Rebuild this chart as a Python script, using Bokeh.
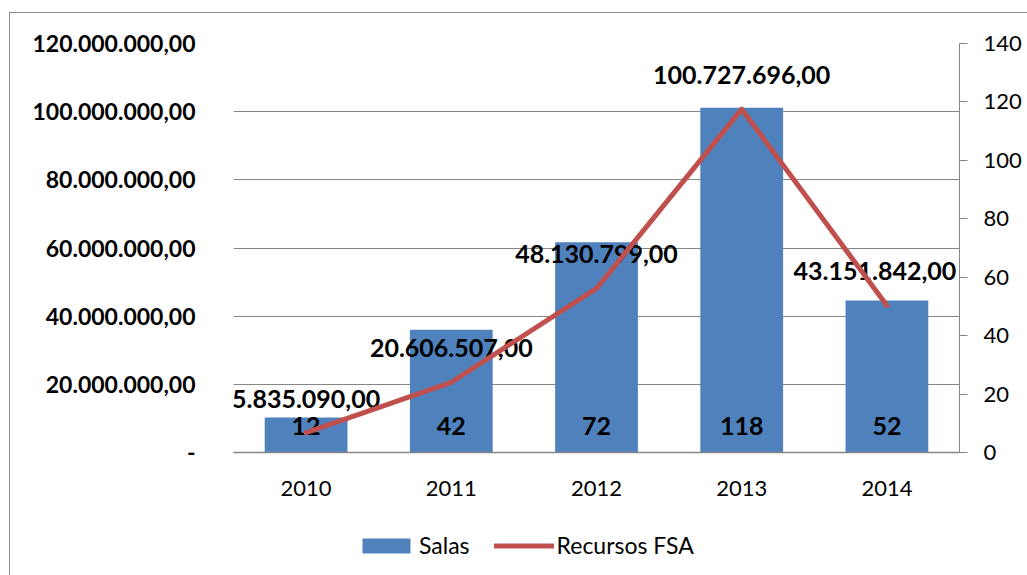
from bokeh.plotting import figure
from bokeh.layouts import column
from bokeh.models import Range1d, LinearAxis, FixedTicker, ColumnDataSource, Legend, LegendItem
from bokeh.core.properties import value
from bokeh.embed import file_html
from bokeh.resources import INLINE

# ---- data ----
anos = ["2010", "2011", "2012", "2013", "2014"]
salas = [12, 42, 72, 118, 52]
recursos_fsa = [5835090.00, 20606507.00, 48130799.00, 100727696.00, 43151842.00]

left_ticks = [0, 20000000, 40000000, 60000000, 80000000, 100000000, 120000000]
left_tick_labels = ["-", "20.000.000,00", "40.000.000,00", "60.000.000,00",
                    "80.000.000,00", "100.000.000,00", "120.000.000,00"]
right_ticks = [0, 20, 40, 60, 80, 100, 120, 140]
series_names = ["Salas", "Recursos FSA"]


def br(v):
    s = f"{v:,.2f}"
    return s.replace(",", "X").replace(".", ",").replace("X", ".")


FONT = "Lato"
GRAY = "#868686"
BLUE = "#4F81BD"
RED = "#C0504D"

src = ColumnDataSource(dict(
    ano=anos,
    salas=salas,
    salas_lbl=[str(s) for s in salas],
    zero=[0] * len(salas),
    fsa=recursos_fsa,
    fsa_lbl=[br(v) for v in recursos_fsa],
))
# keep the last value label inside the plot frame (text glyphs are clipped)
src.data["lbl_dx"] = [0, 0, 0, 0, -12]

p = figure(width=1017, height=507, x_range=anos, y_range=Range1d(0, 120000000),
           output_backend="svg", toolbar_location=None,
           min_border_left=223, min_border_right=68, min_border_top=30, min_border_bottom=68)
p.outline_line_color = None
p.background_fill_color = "white"
p.border_fill_color = "white"
p.extra_y_ranges = {"salas": Range1d(0, 140)}

# left axis
ya = p.yaxis[0]
ya.ticker = FixedTicker(ticks=left_ticks)
ya.major_label_overrides = dict(zip(left_ticks, left_tick_labels))
ya.axis_line_color = None
ya.major_tick_line_color = None
ya.minor_tick_line_color = None
ya.major_label_standoff = 32
ya.major_label_text_font = FONT
ya.major_label_text_font_style = "bold"
ya.major_label_text_font_size = "23px"
ya.major_label_text_color = "black"

# right axis
ra = LinearAxis(y_range_name="salas", ticker=FixedTicker(ticks=right_ticks))
ra.axis_line_color = GRAY
ra.major_tick_line_color = GRAY
ra.major_tick_out = 8
ra.major_tick_in = 0
ra.minor_tick_line_color = None
ra.major_label_standoff = 16
ra.major_label_text_font = FONT
ra.major_label_text_font_size = "22px"
ra.major_label_text_color = "black"
p.add_layout(ra, "right")

# x axis
xa = p.xaxis[0]
xa.axis_line_color = GRAY
xa.axis_line_width = 1.5
xa.major_tick_line_color = None
xa.minor_tick_line_color = None
xa.major_label_standoff = 22
xa.major_label_text_font = FONT
xa.major_label_text_font_size = "22px"
xa.major_label_text_color = "black"

p.xgrid.grid_line_color = None
p.ygrid.grid_line_color = GRAY
p.ygrid.grid_line_width = 1.2

bars = p.vbar(x="ano", top="salas", width=0.57, source=src, y_range_name="salas",
              fill_color=BLUE, line_color=None)

p.text(x="ano", y="zero", text="salas_lbl", source=src, y_range_name="salas",
       text_align="center", text_baseline="middle", y_offset=-27,
       text_font=value(FONT), text_font_style="bold", text_font_size="25px", text_color="black")

p.text(x="ano", y="fsa", text="fsa_lbl", source=src,
       text_align="center", text_baseline="middle", y_offset=-34, x_offset="lbl_dx",
       text_font=value(FONT), text_font_style="bold", text_font_size="25px", text_color="black")

line = p.line(x="ano", y="fsa", source=src, line_color=RED, line_width=5,
              line_cap="round", line_join="round")

# ---- legend strip below the chart ----
lf = figure(width=1017, height=55, output_backend="svg", toolbar_location=None,
            x_axis_location=None, y_axis_location=None, min_border=0,
            x_range=anos, y_range=Range1d(-2, -1))
lf.outline_line_color = None
lf.grid.grid_line_color = None
lf.background_fill_color = "white"
lf.border_fill_color = "white"
lbar = lf.vbar(x="ano", top="salas", width=0.57, source=src, fill_color=BLUE, line_color=None)
lline = lf.line(x="ano", y="fsa", source=src, line_color=RED, line_width=5, line_cap="round")
lbar.visible = False
lline.visible = False

leg = Legend(items=[LegendItem(label=series_names[0], renderers=[lbar]),
                    LegendItem(label=series_names[1], renderers=[lline])],
             location=(123, 16), orientation="horizontal",
             glyph_width=60, glyph_height=19, label_standoff=3, spacing=24,
             padding=0, margin=0,
             border_line_color=None, background_fill_alpha=0,
             label_text_font=FONT, label_text_font_size="23px", label_text_color="black")
lf.add_layout(leg)

lay = column(p, lf, spacing=0)
lay.styles = {"border-left": "1px solid #8c8c8c", "border-top": "1px solid #8c8c8c",
              "margin-left": "9px", "margin-top": "12px"}

open("out.html", "w").write(file_html(lay, INLINE))
